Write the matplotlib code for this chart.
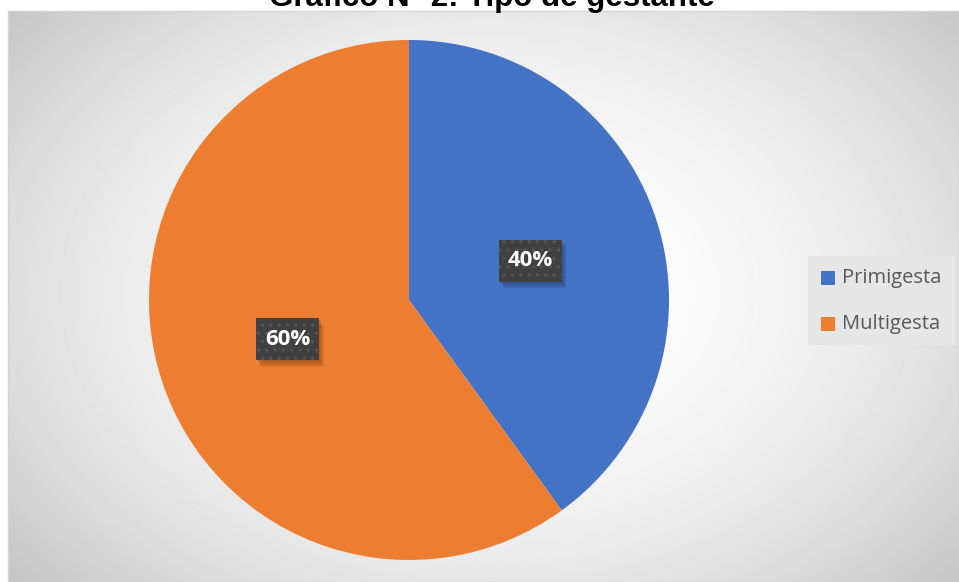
import numpy as np
import matplotlib.pyplot as plt
from matplotlib.patches import Rectangle

categories = ['Primigesta', 'Multigesta']
values = [40, 60]
colors = ['#4472C4', '#ED7D31']
title = 'Gráfico N° 2: Tipo de gestante'

W, H = 959, 582
fig = plt.figure(figsize=(W / 100, H / 100), dpi=100)
fig.patch.set_facecolor('white')

# chart area with radial grey gradient
bg = fig.add_axes([8 / W, 0, (W - 8) / W, (H - 11) / H])
yy, xx = np.mgrid[0:H - 11, 0:W - 8]
cx, cy = 480, 280
d = np.sqrt(((xx - cx) / 540.0) ** 2 + ((yy - cy) / 380.0) ** 2)
g = np.clip(1.0 - 0.17 * d ** 2, 0.76, 1.0)
bg.imshow(g, cmap='gray', vmin=0, vmax=1, aspect='auto', interpolation='bilinear')
bg.set_xticks([])
bg.set_yticks([])
for s in bg.spines.values():
    s.set_color('#d4d4d4')
    s.set_linewidth(1)

# pie
R = 260
pcx, pcy = 409, 300
ax = fig.add_axes([(pcx - R) / W, (H - pcy - R) / H, 2 * R / W, 2 * R / H])
ax.set_facecolor('none')
wedges, texts = ax.pie(values, colors=colors, startangle=90, counterclock=False,
                       radius=1, wedgeprops=dict(linewidth=0))
ax.set_xlim(-1, 1)
ax.set_ylim(-1, 1)
ax.set_aspect('auto')
ax.axis('off')

# data labels
start = 90
tot = sum(values)
for v in values:
    ang = np.deg2rad(start - 360 * v / tot / 2)
    start -= 360 * v / tot
    x, y = 0.49 * np.cos(ang), 0.49 * np.sin(ang)
    bw, bh = 63 / R, 42 / R
    for k in range(1, 4):
        ax.add_patch(Rectangle((x - bw / 2 + 0.006 * k, y - bh / 2 - 0.008 * k), bw, bh,
                               facecolor='#000000', alpha=0.09, linewidth=0))
    ax.add_patch(Rectangle((x - bw / 2, y - bh / 2), bw, bh,
                           facecolor='#404040', edgecolor='#555555',
                           hatch='..', linewidth=0))
    ax.text(x, y, f'{v}%', ha='center', va='center', color='white',
            fontsize=16, fontweight='bold', family='Open Sans')

# legend
lx, ly = 808, 256
fig.patches.append(Rectangle((lx / W, 1 - 345 / H), (955 - lx) / W, (345 - ly) / H,
                             transform=fig.transFigure, facecolor='#e6e6e6',
                             edgecolor='none', zorder=2))
for i, (c, col) in enumerate(zip(categories, colors)):
    yc = 278 + i * 46
    fig.patches.append(Rectangle((821 / W, 1 - (yc + 7) / H), 14 / W, 14 / H,
                                 transform=fig.transFigure, facecolor=col,
                                 edgecolor='none', zorder=3))
    fig.text(842 / W, 1 - yc / H, c, ha='left', va='center', color='#595959',
             fontsize=14.5, family='Open Sans', zorder=4)

# title, cut at the top
fig.text(492 / W, 1 - 6 / H, title, ha='center', va='baseline',
         fontsize=22.5, fontweight='bold', family='Liberation Sans', color='black')

fig.savefig('out.png', dpi=100)
